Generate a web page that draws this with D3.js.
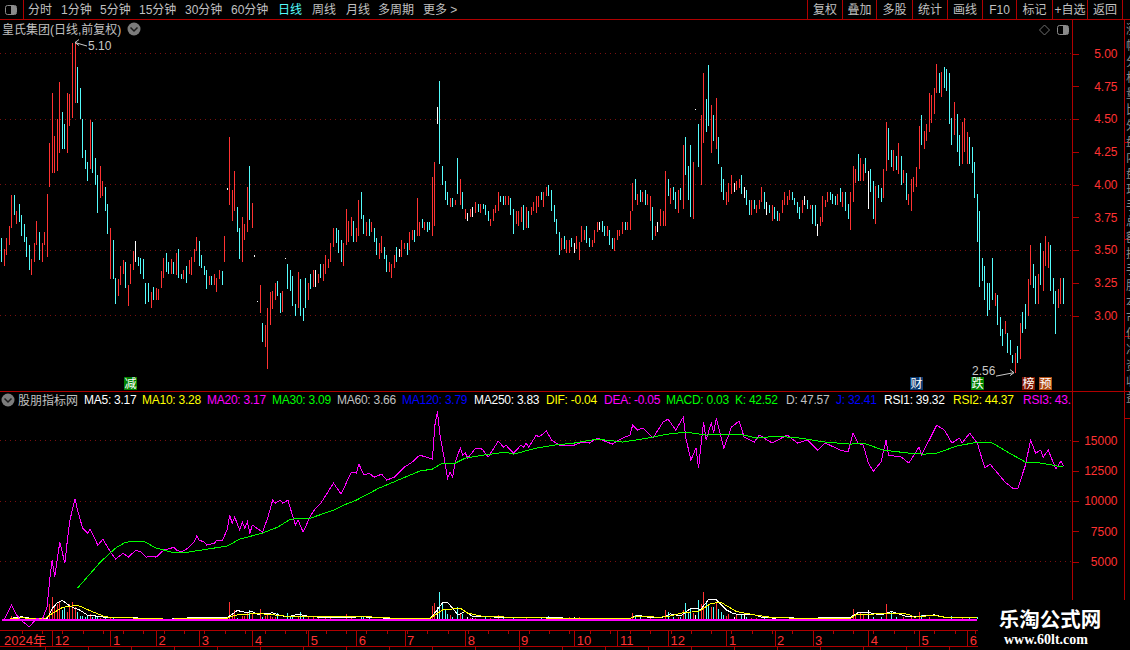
<!DOCTYPE html>
<html>
<head>
<meta charset="utf-8">
<script src="https://cdn.jsdelivr.net/npm/d3@7"></script>
<style>
html, body { margin: 0; padding: 0; background: #000; overflow: hidden; }
svg { display: block; font-family: "Liberation Sans", "Noto Sans CJK SC", sans-serif; font-size: 12px; }
</style>
</head>
<body>
<svg id="chart" width="1130" height="650"></svg>
<script>
// daily bars, one vertical line each: u = up, d = down, f = flat
const barHigh = [
  3.59,3.51,3.59,3.68,3.92,3.92,3.80,3.85,3.77,3.70,
  3.60,3.54,3.43,3.55,3.72,3.64,3.55,3.64,3.93,4.32,
  4.70,4.37,4.50,4.78,4.55,4.46,4.70,4.69,5.08,5.08,
  4.90,4.74,4.50,4.26,4.17,4.49,4.48,4.20,4.07,4.14,
  4.03,3.98,3.85,3.67,3.58,3.29,3.28,3.38,3.42,3.41,
  3.23,3.39,3.49,3.57,3.45,3.44,3.43,3.25,3.25,3.18,
  3.22,3.21,3.20,3.34,3.44,3.48,3.41,3.43,3.41,3.48,
  3.51,3.32,3.35,3.38,3.42,3.45,3.51,3.60,3.57,3.46,
  3.38,3.35,3.30,3.30,3.32,3.29,3.35,3.34,3.61,3.97,
  4.36,3.96,4.10,3.83,3.67,3.75,3.70,3.98,4.14,3.86,
  3.46,3.11,3.23,2.94,2.93,3.06,3.18,3.19,3.25,3.26,
  3.17,3.19,3.44,3.39,3.35,3.30,3.09,3.33,3.28,3.06,
  3.29,3.25,3.32,3.35,3.35,3.32,3.39,3.39,3.46,3.43,
  3.55,3.67,3.67,3.65,3.58,3.55,3.81,3.72,3.75,3.72,
  3.67,3.88,3.94,3.77,3.71,3.74,3.71,3.67,3.59,3.55,
  3.61,3.52,3.46,3.41,3.39,3.46,3.52,3.51,3.58,3.55,
  3.55,3.64,3.65,3.65,3.90,3.71,3.74,3.71,3.71,3.71,
  4.06,4.17,4.59,4.79,4.14,4.03,3.94,3.90,3.90,3.88,
  4.20,4.04,3.94,3.81,3.78,3.81,3.83,3.87,3.85,3.85,
  3.85,3.84,3.80,3.74,3.81,3.84,3.94,3.91,3.91,3.91,
  3.91,3.90,3.81,3.80,3.80,3.83,3.84,3.83,3.80,3.83,
  3.87,3.91,3.91,3.94,3.94,3.98,4.00,3.96,3.84,3.74,
  3.64,3.59,3.61,3.58,3.58,3.59,3.55,3.61,3.56,3.68,
  3.65,3.68,3.59,3.58,3.65,3.71,3.71,3.72,3.68,3.68,
  3.65,3.59,3.59,3.65,3.65,3.71,3.71,3.71,3.80,4.01,
  4.04,3.93,3.96,3.94,3.96,3.93,3.91,3.83,3.68,3.71,
  3.81,3.80,4.10,4.04,3.97,3.98,3.94,3.96,3.97,4.30,
  4.36,4.14,4.30,4.17,4.58,4.46,4.53,4.85,4.65,4.91,
  4.61,4.53,4.66,4.36,4.13,4.04,3.94,4.01,4.07,4.01,
  4.03,4.04,4.07,3.98,3.96,3.88,3.88,3.88,3.84,3.88,
  3.98,3.94,3.87,3.84,3.84,3.83,3.80,3.78,3.88,3.94,
  3.91,3.96,3.94,3.90,3.87,3.83,3.88,3.91,3.88,3.84,
  3.84,3.84,3.70,3.75,3.91,3.88,3.94,3.94,3.93,3.91,
  3.93,3.97,3.94,3.94,3.85,3.94,4.14,4.12,4.23,4.20,
  4.16,4.20,4.10,4.12,4.03,3.99,4.00,3.97,4.12,4.48,
  4.43,4.26,4.26,4.22,4.32,4.22,4.11,4.09,3.93,4.04,
  4.06,4.13,4.45,4.53,4.41,4.46,4.70,4.68,4.74,4.92,
  4.85,4.86,4.90,4.88,4.85,4.51,4.63,4.54,4.38,4.48,
  4.51,4.40,4.36,4.29,4.17,3.93,3.80,3.44,3.38,3.25,
  3.25,3.44,3.17,3.16,2.99,2.90,2.96,2.87,2.81,2.70,
  2.71,2.77,2.94,3.03,3.09,3.28,3.54,3.39,3.30,3.32,
  3.55,3.49,3.61,3.56,3.54,3.29,3.19,3.20,3.29,3.29
];
const barLow = [
  3.41,3.375,3.46,3.54,3.67,3.77,3.70,3.71,3.61,3.56,
  3.45,3.35,3.31,3.41,3.54,3.42,3.41,3.54,3.45,3.98,
  4.09,4.09,4.10,4.24,4.27,4.27,4.24,4.45,4.51,4.62,
  4.62,4.50,4.20,4.12,4.03,4.12,4.09,4.00,3.78,3.90,
  3.91,3.80,3.62,3.28,3.28,3.09,3.15,3.23,3.32,3.21,
  3.07,3.24,3.35,3.41,3.38,3.32,3.28,3.09,3.10,3.06,
  3.12,3.12,3.12,3.21,3.29,3.33,3.32,3.32,3.32,3.31,
  3.29,3.28,3.28,3.25,3.32,3.31,3.41,3.49,3.38,3.36,
  3.31,3.20,3.23,3.23,3.23,3.18,3.28,3.23,3.41,3.96,
  3.84,3.72,3.80,3.64,3.43,3.41,3.58,3.64,3.73,3.67,
  3.45,3.10,3.02,2.80,2.76,2.59,2.93,3.05,3.12,3.15,
  3.02,3.03,3.43,3.20,3.19,3.07,3.00,3.06,3.00,2.96,
  3.06,3.12,3.20,3.22,3.22,3.25,3.29,3.26,3.32,3.36,
  3.41,3.52,3.55,3.48,3.41,3.38,3.54,3.56,3.61,3.56,
  3.56,3.61,3.74,3.62,3.61,3.61,3.64,3.56,3.46,3.43,
  3.48,3.43,3.33,3.33,3.29,3.36,3.41,3.45,3.45,3.51,
  3.46,3.50,3.58,3.56,3.61,3.61,3.67,3.65,3.64,3.65,
  3.61,3.68,4.46,4.16,4.00,3.88,3.84,3.83,3.83,3.84,
  3.93,3.84,3.81,3.74,3.72,3.75,3.75,3.78,3.79,3.78,
  3.81,3.77,3.72,3.68,3.72,3.78,3.80,3.87,3.84,3.84,
  3.84,3.77,3.62,3.70,3.68,3.71,3.65,3.67,3.67,3.77,
  3.80,3.78,3.83,3.88,3.83,3.91,3.91,3.80,3.71,3.62,
  3.46,3.50,3.51,3.48,3.48,3.52,3.48,3.51,3.42,3.56,
  3.58,3.55,3.52,3.52,3.55,3.64,3.65,3.64,3.61,3.61,
  3.54,3.51,3.49,3.58,3.61,3.62,3.65,3.65,3.65,3.80,
  3.88,3.84,3.87,3.87,3.84,3.84,3.72,3.58,3.61,3.64,
  3.68,3.68,3.68,3.91,3.85,3.88,3.81,3.78,3.88,3.81,
  4.07,3.88,3.75,3.74,4.57,4.13,4.00,4.32,4.40,4.45,
  4.24,4.33,4.27,4.16,3.94,3.88,3.84,3.87,3.93,3.94,
  3.96,3.97,3.93,3.90,3.84,3.77,3.77,3.81,3.78,3.81,
  3.87,3.81,3.77,3.78,3.72,3.74,3.72,3.72,3.78,3.84,
  3.84,3.88,3.88,3.84,3.78,3.74,3.78,3.84,3.81,3.81,
  3.70,3.68,3.61,3.68,3.71,3.83,3.87,3.88,3.85,3.84,
  3.84,3.87,3.83,3.80,3.74,3.65,3.87,4.01,4.03,4.03,
  4.03,4.09,3.81,3.94,3.74,3.70,3.90,3.87,3.90,4.10,
  4.19,4.13,4.10,4.11,4.08,4.00,4.01,3.88,3.84,3.80,
  3.94,3.98,4.12,4.30,4.27,4.33,4.40,4.47,4.54,4.70,
  4.70,4.67,4.74,4.71,4.46,4.30,4.38,4.25,4.14,4.16,
  4.25,4.16,4.16,4.09,3.90,3.56,3.22,3.26,3.12,3.00,
  3.04,3.12,3.07,2.93,2.84,2.77,2.86,2.71,2.70,2.64,
  2.56,2.64,2.67,2.87,2.90,3.00,3.23,3.21,3.09,3.09,
  3.23,3.19,3.38,3.36,3.19,3.09,2.86,3.06,3.09,3.09
];
const barKind = [
  'duuuududdd','dduuuduuuu','uuuudduuuu','dddddudddu','uddudduuud',
  'uuufdddddu','duuuuddudu','dduduuuudd','dduduuuduf','uuudduuudu',
  'ffuduuuuud','dufddddudd','dudufuduuu','uuddduuuud','uuddududdu',
  'udduuudfuu','duuduududd','uufddddudu','dudufufudu','ddduuuuddu',
  'udduuududu','uuuduudddd','duduudfuuu','udduuufddu','dduuuuduuu',
  'dududuuduf','uuududdudu','dddufduudd','ududdduuuf','uudfdduduu',
  'udfdudduuu','uuddddufdu','ddfuuuuddd','ududduuudu','udfddudduu',
  'ddudududuu','uuuduuuuuu','dudddduddu','uudddddddd','ddudddu' + 'ddd',
  'ududduuddu','duuuddduud'
].join('').split('');

const priceTicks = [3.00, 3.25, 3.50, 3.75, 4.00, 4.25, 4.50, 4.75, 5.00];
const priceGrid = [3.00, 3.50, 4.00, 4.50, 5.00];
const lowerTicks = [5000, 7500, 10000, 12500, 15000];
const lowerGrid = [5000, 10000, 15000];

// lower pane: [bar number, value]
const magentaLine = [
  [0,150],[1,157],[4,1397],[6,570],[8,100],[11,-400],[14,320],[16,157],[18,1256],[19,3463],
  [20,5115],[21,3710],[23,6600],[25,4867],[26,6770],[27,8420],[29,10200],[30,9250],[32,7760],[34,7350],
  [35,7680],[38,6350],[40,6850],[43,5780],[45,5200],[47,5530],[48,5690],[50,5360],[53,5940],[55,5780],
  [57,5360],[59,5450],[61,5360],[64,5940],[67,6110],[68,6190],[69,5940],[71,5780],[73,6020],[76,6600],
  [77,7100],[78,6770],[80,6600],[81,6350],[84,6520],[85,6770],[87,6690],[89,7600],[90,8830],[91,8170],
  [92,8670],[94,7600],[95,8260],[96,7760],[97,8260],[98,7350],[99,8010],[103,7430],[105,8590],[107,10070],
  [108,9820],[110,10070],[111,9820],[113,10070],[115,8670],[116,8010],[117,8420],[119,7430],[122,8830],[124,9410],
  [126,9820],[131,11480],[134,10570],[138,12390],[140,12300],[141,13050],[143,12140],[145,12300],[147,11970],[150,12220],
  [152,11730],[155,11970],[159,12800],[162,13210],[165,13790],[170,13460],[171,16270],[172,17420],[173,15450],[175,13130],
  [176,11890],[177,12390],[178,11970],[179,13210],[181,14370],[182,13790],[183,13960],[184,13540],[187,14370],[189,14370],
  [190,14200],[192,13630],[196,14950],[198,14460],[199,14620],[202,13960],[205,14620],[206,14460],[207,14790],[208,14460],
  [211,15450],[212,15280],[215,15780],[217,15040],[220,14620],[226,14620],[229,14870],[232,14790],[235,15200],[238,14950],
  [241,14700],[245,15200],[248,15450],[249,16270],[251,15860],[253,16030],[257,15200],[261,16520],[263,16770],[266,15860],
  [269,16930],[270,15200],[272,13380],[274,14370],[275,12720],[277,16520],[278,15040],[280,16440],[281,15610],[282,16850],
  [285,14370],[288,16110],[291,16600],[293,15280],[297,14870],[299,15450],[304,14790],[310,15450],[314,14790],[318,15040],
  [322,14200],[325,14790],[331,14200],[334,14040],[336,15610],[338,14790],[340,14620],[342,13130],[344,12470],[347,13210],
  [349,15040],[350,13790],[355,13630],[358,13130],[362,14460],[363,13790],[369,16270],[372,15860],[375,14790],[378,15200],
  [379,14790],[382,15610],[385,14790],[387,13380],[388,12720],[390,13050],[392,12550],[396,11560],[399,11060],[401,11060],
  [404,12970],[406,15040],[408,13960],[410,14200],[411,13630],[413,14200],[416,12640],[418,13300],[419,12880]
];
const greenLine = [
  [30,2800],[39,4950],[45,6110],[49,6600],[56,6690],[61,6110],[67,5780],[74,5780],[81,6020],[89,6270],
  [94,6850],[103,7350],[109,7840],[114,8500],[122,8590],[131,9250],[136,9740],[140,10070],[149,11070],[165,12470],
  [170,12640],[174,13130],[179,13130],[183,13540],[190,13790],[199,14040],[202,13870],[211,14370],[218,14620],[226,14790],
  [235,15120],[245,14870],[255,15200],[263,15530],[270,15690],[278,15450],[291,15530],[298,15200],[306,15360],[315,15200],
  [325,14870],[335,14700],[340,14790],[348,14200],[358,13960],[364,13870],[369,13960],[377,14540],[385,14870],[391,14790],
  [397,14040],[404,13210],[408,13210],[419,12800]
];
const whiteLine = [
  [3,205],[5,370],[8,425],[10,370],[13,205],[16,150],[18,290],[20,1110],[22,1580],[24,1800],
  [26,1470],[28,1200],[31,975],[34,560],[36,535],[39,425],[43,370],[49,340],[53,370],[55,260],
  [66,230],[76,370],[84,340],[89,370],[91,645],[93,950],[96,810],[99,840],[101,645],[107,755],
  [110,535],[113,425],[117,645],[122,425],[132,370],[142,425],[149,370],[151,315],[157,290],[169,290],
  [172,1000],[174,1600],[176,1600],[178,1140],[180,590],[183,865],[186,450],[197,400],[215,400],[225,290],
  [248,290],[251,560],[255,400],[261,400],[264,670],[268,510],[272,1140],[276,1060],[279,1880],[282,1830],
  [286,1000],[289,670],[297,590],[300,400],[305,315],[309,400],[315,290],[335,400],[338,780],[342,780],
  [347,590],[351,865],[353,730],[357,450],[361,450],[368,590],[372,400],[378,340],[385,400]
];
const yellowLine = [
  [1,205],[8,340],[17,260],[20,700],[24,1200],[30,1390],[33,1110],[36,840],[41,425],[46,370],
  [66,230],[76,315],[89,315],[92,560],[100,700],[105,645],[112,480],[118,480],[129,425],[145,425],
  [157,290],[169,290],[174,1000],[181,1140],[184,730],[190,450],[201,400],[223,290],[248,290],[250,450],
  [260,400],[263,450],[269,780],[275,865],[280,1550],[284,1600],[290,865],[297,590],[303,400],[315,290],
  [335,290],[337,590],[345,670],[349,730],[358,650],[360,400],[368,560],[372,400],[378,400],[385,340]
];
const baseLine = [[0,150],[385,150]];
const volumeBars = [
  [4,410],[5,280],[7,160],[11,200],[14,160],[15,240],[17,130],[19,1380],[20,1980],[21,1100],
  [22,1380],[23,1510],[24,880],[25,1100],[26,690],[27,1380],[28,1510],[29,1100],[30,690],[31,410],
  [32,410],[33,275],[34,410],[35,550],[36,330],[37,330],[38,410],[39,220],[41,275],[43,220],
  [44,220],[46,130],[50,110],[53,150],[57,130],[65,90],[90,1490],[91,550],[92,830],[93,220],
  [95,410],[96,410],[97,610],[98,830],[99,500],[102,960],[103,275],[104,410],[105,550],[106,410],
  [107,275],[108,330],[109,610],[113,610],[114,275],[115,410],[117,410],[118,740],[119,410],[121,330],
  [123,410],[125,220],[128,200],[130,220],[133,160],[136,550],[138,200],[142,410],[143,300],[145,200],
  [147,150],[170,1180],[171,1460],[172,1150],[173,2340],[174,1540],[175,910],[176,520],[177,440],[178,250],
  [180,1130],[181,630],[182,520],[184,250],[185,170],[186,170],[187,190],[191,250],[193,200],[196,440],
  [198,250],[202,250],[207,250],[213,250],[216,360],[218,200],[221,300],[224,250],[226,250],[228,250],
  [231,200],[249,580],[250,440],[252,250],[256,200],[262,860],[263,720],[265,250],[267,250],[268,250],
  [269,860],[270,1460],[271,580],[272,1070],[273,580],[274,440],[275,1680],[276,1350],[277,2340],[278,1540],
  [279,1300],[280,1100],[281,1100],[282,1540],[283,990],[284,720],[285,440],[286,360],[287,520],[289,250],
  [290,440],[292,440],[293,580],[294,250],[296,170],[298,170],[301,250],[336,910],[337,440],[339,580],
  [340,440],[342,860],[344,300],[347,300],[349,1350],[351,720],[353,300],[356,300],[359,250],[362,720],
  [363,440],[366,300],[375,360],[379,300],[382,250],[385,300]
];

const menuLabels = ['分时','1分钟','5分钟','15分钟','30分钟','60分钟','日线','周线','月线','多周期','更多 >'];
const buttonLabels = ['复权','叠加','多股','统计','画线','F10','标记','+自选','返回'];
const legendNames = ['MA5','MA10','MA20','MA30','MA60','MA120','MA250','DIF','DEA','MACD','K','D','J','RSI1','RSI2','RSI3'];
const legendValues = ['3.17','3.28','3.17','3.09','3.66','3.79','3.83','-0.04','-0.05','0.03','42.52','47.57','32.41','39.32','44.37','43.65'];
const legendColors = ['#fff','#ff0','#f0f','#0f0','#c0c0c0','#0000ff','#fff','#ff0','#f0f','#0f0','#0f0','#c0c0c0','#0000ff','#fff','#ff0','#f0f'];
const legendLeft = [84,142,207,272,337,402,474,546,604,666,735,786,836,884,953,1023];
const tagTexts = ['减','财','跌','榜','预'];
const tagBars = [51,361,385,405,412];
const tagColors = ['#008000','#0c3a70','#008000','#7c1400','#b04c12'];
const monthLabels = ['2024年','12','1','2','3','4','5','6','7','8','9','10','11','12','1','2','3','4','5','6'];
const monthBars = [0,20,43,61,78,99,121,140,159,183,204,226,243,263,286,305,320,342,362,381];
const sideChars = ['涨','幅','分','析','量','比','外','盘','内','盘','现','手','总','额','换','手','股','本','市','值','净','资','收','益'];

const svg = d3.select('#chart');
const red = '#ff3232', cyan = '#54fcfc', line = '#b00000', dotted = '#7a1010';
const kindColor = { u: red, d: cyan, f: '#ffffff' };

const x = d3.scaleLinear().domain([0, barHigh.length - 1]).range([1.5, 1063.5]);
const yPrice = d3.scaleLinear().domain([3, 5]).range([315.5, 53.5]);
const yLower = d3.scaleLinear().domain([0, 15000]).range([622, 440.5]);

svg.append('rect').attr('width', 1130).attr('height', 650).attr('fill', '#000');

const defs = svg.append('defs');
defs.append('clipPath').attr('id', 'plot').append('rect').attr('width', 1071).attr('height', 650);

// dotted grid
function gridLines(values, scale) {
  svg.append('g').attr('shape-rendering', 'crispEdges').selectAll('line').data(values).join('line')
    .attr('x1', 0).attr('x2', 1072)
    .attr('y1', d => Math.floor(scale(d)) + 0.5).attr('y2', d => Math.floor(scale(d)) + 0.5)
    .attr('stroke', dotted).attr('stroke-dasharray', '1 4');
}
gridLines(priceGrid, yPrice);
gridLines(lowerGrid, yLower);

// price bars
svg.append('g').attr('shape-rendering', 'crispEdges')
  .selectAll('rect').data(barHigh).join('rect')
  .attr('x', (d, i) => Math.floor(x(i)))
  .attr('width', 1)
  .attr('y', d => yPrice(d))
  .attr('height', (d, i) => Math.max(1, yPrice(barLow[i]) - yPrice(d)))
  .attr('fill', (d, i) => kindColor[barKind[i]]);

// high and low notes
function priceNote(price, label, textX, textY, arrowFrom, arrowTo) {
  const ay = yPrice(price);
  const back = arrowTo > arrowFrom ? -4 : 4;
  svg.append('path')
    .attr('d', `M${arrowFrom},${ay + 3}L${arrowTo},${ay - 0.5}m${back},-3l${-back},3l${back},3`)
    .attr('fill', 'none').attr('stroke', '#c8c8c8');
  svg.append('text').attr('x', textX).attr('y', textY).attr('fill', '#c8c8c8').text(label);
}
priceNote(5.08, '5.10', 88, 50, 87, 75);
priceNote(2.56, '2.56', 972, 375, 996, 1014);

// tags above the divider
const tags = svg.append('g').selectAll('g').data(tagTexts).join('g')
  .attr('transform', (d, i) => `translate(${Math.floor(x(tagBars[i])) - 6},377)`);
tags.append('rect').attr('width', 13).attr('height', 13).attr('fill', (d, i) => tagColors[i]);
tags.append('text').attr('x', 6.5).attr('y', 11).attr('text-anchor', 'middle')
  .attr('fill', '#fff').style('font-size', '12px').text(d => d);

// lower pane
svg.append('g').attr('shape-rendering', 'crispEdges')
  .selectAll('rect').data(volumeBars).join('rect')
  .attr('x', d => Math.floor(x(d[0])))
  .attr('width', 1)
  .attr('y', d => yLower(d[1]) - 1.5)
  .attr('height', d => yLower(0) - 1.5 - yLower(d[1]))
  .attr('fill', d => kindColor[barKind[d[0]]]);

const lowerPath = d3.line().x(d => x(d[0])).y(d => yLower(d[1]));
function drawLine(points, color, width) {
  svg.append('path').attr('d', lowerPath(points))
    .attr('fill', 'none').attr('stroke', color).attr('stroke-width', width)
    .attr('shape-rendering', 'crispEdges');
}
drawLine(whiteLine, '#fff', 1);
drawLine(yellowLine, '#ff0', 1);
drawLine(baseLine, '#f0f', 1.5);
drawLine(magentaLine, '#f0f', 1);
drawLine(greenLine, '#0f0', 1);

// frame lines
function rule(x1, y1, x2, y2) {
  svg.append('line').attr('x1', x1).attr('y1', y1).attr('x2', x2).attr('y2', y2)
    .attr('stroke', line).attr('shape-rendering', 'crispEdges');
}
rule(0, 19.5, 1130, 19.5);
rule(0, 391.5, 1130, 391.5);
rule(0, 630.5, 978, 630.5);
rule(0, 646.5, 978, 646.5);
rule(1072.5, 20, 1072.5, 600);
rule(1124.5, 20, 1124.5, 600);
rule(23.5, 0, 23.5, 19);
[142, 239, 336, 418].forEach(y => rule(1124, y + 0.5, 1130, y + 0.5));

// axes
function sideAxis(scale, values, format) {
  const g = svg.append('g').attr('transform', 'translate(1072.5,0)')
    .call(d3.axisRight(scale).tickValues(values).tickFormat(format).tickSize(6));
  g.select('.domain').remove();
  g.selectAll('line').attr('stroke', line).attr('shape-rendering', 'crispEdges');
  g.selectAll('text').attr('x', 45).attr('text-anchor', 'end').attr('fill', red)
    .style('font-size', '12px').style('font-family', '"Liberation Sans"');
}
sideAxis(yPrice, priceTicks, d3.format('.2f'));
sideAxis(yLower, lowerTicks, d3.format('d'));

const monthAxis = svg.append('g').attr('transform', 'translate(0,630.5)')
  .call(d3.axisBottom(x).tickValues(monthBars).tickSize(16).tickFormat((d, i) => monthLabels[i]));
monthAxis.select('.domain').remove();
monthAxis.selectAll('line').attr('stroke', (d, i) => i === 0 ? 'none' : line).attr('shape-rendering', 'crispEdges');
monthAxis.selectAll('text').attr('y', 14).attr('dy', 0).attr('dx', 2).attr('text-anchor', 'start')
  .attr('fill', red).style('font-size', '13px')
  .style('font-family', '"Liberation Sans", "Noto Sans CJK SC"');

// minor ticks under the date rules
const minorTop = d3.range(8, 386, 8);
const minorBottom = d3.range(17, 386, 17);
const minorAxisA = svg.append('g').attr('transform', 'translate(0,630.5)')
  .call(d3.axisBottom(x).tickValues(minorTop).tickSize(3).tickFormat(''));
minorAxisA.select('.domain').remove();
minorAxisA.selectAll('line').attr('stroke', line).attr('shape-rendering', 'crispEdges');
const minorAxisB = svg.append('g').attr('transform', 'translate(0,646.5)')
  .call(d3.axisBottom(x).tickValues(minorBottom).tickSize(4).tickFormat(''));
minorAxisB.select('.domain').remove();
minorAxisB.selectAll('line').attr('stroke', line).attr('shape-rendering', 'crispEdges');

// top bar
const menuLeft = [28,61,100,139,185,231,278,312,346,378,423];
svg.append('g').selectAll('text').data(menuLabels).join('text')
  .attr('x', (d, i) => menuLeft[i]).attr('y', 14)
  .attr('fill', d => d === '日线' ? '#54fcfc' : '#c0c0c0').text(d => d);
const buttonLeft = [807,842,876,912,947,982,1016,1052,1087,1122];
buttonLeft.forEach(v => rule(v + 0.5, 0, v + 0.5, 19));
svg.append('g').selectAll('text').data(buttonLabels).join('text')
  .attr('x', (d, i) => (buttonLeft[i] + buttonLeft[i + 1]) / 2 + 0.5).attr('y', 14).attr('text-anchor', 'middle')
  .attr('fill', '#c0c0c0').text(d => d);

function panelIcon(left, top) {
  svg.append('rect').attr('x', left + 0.5).attr('y', top + 0.5).attr('width', 11).attr('height', 9).attr('rx', 2)
    .attr('fill', 'none').attr('stroke', '#8a8a8a');
  svg.append('rect').attr('x', left + 6).attr('y', top + 1).attr('width', 5).attr('height', 8).attr('fill', '#8a8a8a');
}
function chevronIcon(cx, cy) {
  svg.append('circle').attr('cx', cx).attr('cy', cy).attr('r', 6.5).attr('fill', '#7c7c7c');
  svg.append('path').attr('d', `M${cx - 3.5},${cy - 1.5}L${cx},${cy + 2}L${cx + 3.5},${cy - 1.5}`)
    .attr('fill', 'none').attr('stroke', '#1c1c1c').attr('stroke-width', 1.5);
}
panelIcon(5, 5);
panelIcon(1057, 25);
svg.append('path').attr('d', 'M1044.5,25L1049.5,30L1044.5,35L1039.5,30Z').attr('fill', 'none').attr('stroke', '#707070');
chevronIcon(134, 29);
chevronIcon(8, 400);

svg.append('text').attr('x', 2).attr('y', 34).attr('fill', '#c0c0c0').text('皇氏集团(日线,前复权)');
svg.append('text').attr('x', 18).attr('y', 405).attr('fill', '#c0c0c0').text('股朋指标网');

// legend row, cut at the axis
svg.append('g').attr('clip-path', 'url(#plot)')
  .selectAll('text').data(legendNames).join('text')
  .attr('x', (d, i) => legendLeft[i]).attr('y', 404)
  .attr('fill', (d, i) => legendColors[i])
  .style('letter-spacing', '-0.25px')
  .text((d, i) => `${d}: ${legendValues[i]}`);

// cropped text in the side strip
svg.append('defs').append('clipPath').attr('id', 'side').append('rect')
  .attr('x', 1125).attr('y', 20).attr('width', 5).attr('height', 630);
svg.append('g').attr('clip-path', 'url(#side)')
  .selectAll('text').data(sideChars).join('text')
  .attr('x', 1126).attr('y', (d, i) => 34 + i * 16).attr('fill', '#8c8c8c').text(d => d);

// watermark block
svg.append('rect').attr('x', 978).attr('y', 600).attr('width', 152).attr('height', 50).attr('fill', '#000');
svg.append('text').attr('x', 1050).attr('y', 627).attr('text-anchor', 'middle').attr('fill', '#fff')
  .style('font-size', '20.5px').style('font-weight', 700).style('font-family', '"Noto Sans CJK SC"').text('乐淘公式网');
svg.append('text').attr('x', 1046).attr('y', 644).attr('text-anchor', 'middle').attr('fill', '#fff')
  .style('font-size', '14px').style('font-weight', 700).style('font-family', '"Liberation Serif"').text('www.60lt.com');
</script>
</body>
</html>
